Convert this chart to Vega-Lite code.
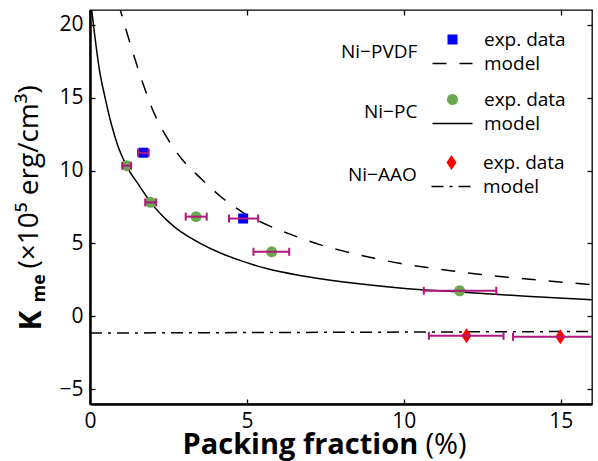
{
  "$schema": "https://vega.github.io/schema/vega-lite/v6.json",
  "width": 502,
  "height": 394,
  "autosize": {"type": "none"},
  "padding": {"left": 90, "top": 10, "right": 6, "bottom": 57},
  "background": "white",
  "datasets": {
    "pvdf_exp": [
      {"x": 1.70, "y": 11.22, "xlo": 1.53, "xhi": 1.87, "kind": "exp. data"},
      {"x": 4.88, "y": 6.71, "xlo": 4.43, "xhi": 5.36, "kind": "exp. data"}
    ],
    "pvdf_model": [
      {"x": 0.9, "y": 21.5, "kind": "model"},
      {"x": 1.19, "y": 19.35, "kind": "model"},
      {"x": 1.46, "y": 17.45, "kind": "model"},
      {"x": 1.73, "y": 15.7, "kind": "model"},
      {"x": 2.01, "y": 14.1, "kind": "model"},
      {"x": 2.44, "y": 12.3, "kind": "model"},
      {"x": 2.94, "y": 10.75, "kind": "model"},
      {"x": 3.56, "y": 9.4, "kind": "model"},
      {"x": 4.19, "y": 8.17, "kind": "model"},
      {"x": 4.88, "y": 7.12, "kind": "model"},
      {"x": 5.7, "y": 6.22, "kind": "model"},
      {"x": 6.5, "y": 5.54, "kind": "model"},
      {"x": 7.32, "y": 4.92, "kind": "model"},
      {"x": 8.18, "y": 4.42, "kind": "model"},
      {"x": 9.03, "y": 4.0, "kind": "model"},
      {"x": 9.87, "y": 3.64, "kind": "model"},
      {"x": 10.75, "y": 3.36, "kind": "model"},
      {"x": 11.62, "y": 3.1, "kind": "model"},
      {"x": 12.47, "y": 2.87, "kind": "model"},
      {"x": 13.38, "y": 2.67, "kind": "model"},
      {"x": 14.25, "y": 2.5, "kind": "model"},
      {"x": 15.12, "y": 2.33, "kind": "model"},
      {"x": 16.0, "y": 2.18, "kind": "model"}
    ],
    "pc_exp": [
      {"x": 1.17, "y": 10.33, "xlo": 1.03, "xhi": 1.31, "kind": "exp. data"},
      {"x": 1.93, "y": 7.82, "xlo": 1.76, "xhi": 2.11, "kind": "exp. data"},
      {"x": 3.38, "y": 6.84, "xlo": 3.05, "xhi": 3.72, "kind": "exp. data"},
      {"x": 5.79, "y": 4.43, "xlo": 5.21, "xhi": 6.35, "kind": "exp. data"},
      {"x": 11.78, "y": 1.76, "xlo": 10.64, "xhi": 12.95, "kind": "exp. data"}
    ],
    "pc_model": [
      {"x": 0.02, "y": 21.6, "kind": "model"},
      {"x": 0.12, "y": 19.8, "kind": "model"},
      {"x": 0.3, "y": 16.9, "kind": "model"},
      {"x": 0.48, "y": 15.0, "kind": "model"},
      {"x": 0.69, "y": 13.1, "kind": "model"},
      {"x": 0.87, "y": 11.8, "kind": "model"},
      {"x": 1.16, "y": 10.34, "kind": "model"},
      {"x": 1.59, "y": 8.9, "kind": "model"},
      {"x": 1.94, "y": 7.8, "kind": "model"},
      {"x": 2.44, "y": 6.62, "kind": "model"},
      {"x": 2.76, "y": 6.02, "kind": "model"},
      {"x": 3.18, "y": 5.42, "kind": "model"},
      {"x": 3.5, "y": 5.03, "kind": "model"},
      {"x": 4.1, "y": 4.4, "kind": "model"},
      {"x": 4.78, "y": 3.84, "kind": "model"},
      {"x": 5.63, "y": 3.28, "kind": "model"},
      {"x": 6.6, "y": 2.84, "kind": "model"},
      {"x": 7.5, "y": 2.53, "kind": "model"},
      {"x": 8.5, "y": 2.25, "kind": "model"},
      {"x": 9.87, "y": 1.95, "kind": "model"},
      {"x": 11.78, "y": 1.67, "kind": "model"},
      {"x": 13.9, "y": 1.39, "kind": "model"},
      {"x": 16.0, "y": 1.14, "kind": "model"}
    ],
    "aao_exp": [
      {"x": 12.0, "y": -1.33, "xlo": 10.8, "xhi": 13.18, "kind": "exp. data"},
      {"x": 14.99, "y": -1.39, "xlo": 13.48, "xhi": 16.5, "kind": "exp. data"}
    ],
    "aao_model": [
      {"x": 0.0, "y": -1.14, "kind": "model"},
      {"x": 16.0, "y": -1.03, "kind": "model"}
    ]
  },
  "resolve": {
    "scale": {"fill": "independent", "stroke": "independent", "shape": "independent", "strokeDash": "independent"},
    "axis": {"x": "independent", "y": "independent"}
  },
  "layer": [
    {
      "resolve": {"axis": {"x": "independent", "y": "independent"}},
      "layer": [
        {
          "data": {"name": "pvdf_model"},
          "mark": {"type": "line", "clip": true, "strokeWidth": 1.5, "interpolate": "monotone"},
          "encoding": {
            "x": {"field": "x", "type": "quantitative", "scale": {"domain": [0, 16], "nice": false, "zero": false},
              "axis": {"orient": "bottom", "values": [0, 5, 10, 15], "tickSize": -5, "labelPadding": 11, "labelFlush": false, "domainWidth": 2.5, "title": "Packing fraction", "titleFontSize": 29, "titleFontWeight": "bold", "titleX": 92, "titleY": 49, "titleAlign": "left", "titleBaseline": "alphabetic", "titleAngle": 0}},
            "y": {"field": "y", "type": "quantitative", "scale": {"domain": [-6, 21], "nice": false, "zero": false},
              "axis": {"orient": "left", "values": [-5, 0, 5, 10, 15, 20], "tickSize": -5, "labelPadding": 12, "labelFlush": false, "domainWidth": 2.5, "title": "K", "titleFontSize": 30, "titleFontWeight": "bold", "titleX": -50, "titleY": 320, "titleAngle": -90, "titleAlign": "left", "titleBaseline": "alphabetic"}},
            "stroke": {"field": "kind", "type": "nominal", "scale": {"domain": ["exp. data", "model"], "range": ["transparent", "black"]},
              "legend": {"title": "Ni−PVDF", "legendX": 251, "legendY": 20, "symbolSize": 100}},
            "strokeDash": {"field": "kind", "type": "nominal", "scale": {"domain": ["exp. data", "model"], "range": [[1, 0], [14, 13]]},
              "legend": {"title": "Ni−PVDF", "legendX": 251, "legendY": 20, "symbolSize": 100}}
          }
        },
        {
          "data": {"name": "pvdf_exp"},
          "mark": {"type": "point", "filled": true, "size": 100, "opacity": 1, "strokeWidth": 0},
          "encoding": {
            "x": {"field": "x", "type": "quantitative",
              "axis": {"orient": "bottom", "labels": false, "ticks": false, "domain": false, "title": "(%)", "titleFontSize": 29, "titleFontWeight": "normal", "titleX": 335, "titleY": 49, "titleAlign": "left", "titleBaseline": "alphabetic", "titleAngle": 0}},
            "y": {"field": "y", "type": "quantitative",
              "axis": {"orient": "left", "labels": false, "ticks": false, "domain": false, "title": "me", "titleFontSize": 18, "titleFontWeight": "bold", "titleX": -46, "titleY": 292, "titleAngle": -90, "titleAlign": "left", "titleBaseline": "alphabetic"}},
            "shape": {"field": "kind", "type": "nominal", "scale": {"domain": ["exp. data", "model"], "range": ["square", "M-4,0H4"]},
              "legend": {"title": "Ni−PVDF", "legendX": 251, "legendY": 20, "symbolSize": 100}},
            "fill": {"field": "kind", "type": "nominal", "scale": {"domain": ["exp. data", "model"], "range": ["#0000ff", "transparent"]},
              "legend": {"title": "Ni−PVDF", "legendX": 251, "legendY": 20, "symbolSize": 100}}
          }
        },
        {
          "data": {"name": "pvdf_exp"},
          "mark": {"type": "rule", "clip": true, "strokeWidth": 2, "color": "#b2177c"},
          "encoding": {
            "x": {"field": "xlo", "type": "quantitative",
              "axis": {"orient": "top", "values": [0, 5, 10, 15], "tickSize": -5, "labels": false, "domain": false, "title": null}},
            "x2": {"field": "xhi"},
            "y": {"field": "y", "type": "quantitative",
              "axis": {"orient": "left", "labels": false, "ticks": false, "domain": false, "title": "(×10⁵ erg/cm³)", "titleFontSize": 28, "titleFontWeight": "normal", "titleX": -53, "titleY": 258, "titleAngle": -90, "titleAlign": "left", "titleBaseline": "alphabetic"}}
          }
        },
        {
          "data": {"name": "pvdf_exp"},
          "mark": {"type": "tick", "orient": "vertical", "clip": true, "size": 8, "thickness": 2, "opacity": 1, "color": "#b2177c"},
          "encoding": {
            "x": {"field": "xlo", "type": "quantitative", "axis": null},
            "y": {"field": "y", "type": "quantitative", "axis": null}
          }
        },
        {
          "data": {"name": "pvdf_exp"},
          "mark": {"type": "tick", "orient": "vertical", "clip": true, "size": 8, "thickness": 2, "opacity": 1, "color": "#b2177c"},
          "encoding": {
            "x": {"field": "xhi", "type": "quantitative", "axis": null},
            "y": {"field": "y", "type": "quantitative", "axis": null}
          }
        }
      ]
    },
    {
      "resolve": {"axis": {"x": "independent", "y": "independent"}},
      "layer": [
        {
          "data": {"name": "pc_model"},
          "mark": {"type": "line", "clip": true, "strokeWidth": 1.5, "interpolate": "monotone"},
          "encoding": {
            "x": {"field": "x", "type": "quantitative", "axis": null},
            "y": {"field": "y", "type": "quantitative",
              "axis": {"orient": "right", "values": [-5, 0, 5, 10, 15, 20], "tickSize": -5, "labels": false, "domain": false, "title": null}},
            "stroke": {"field": "kind", "type": "nominal", "scale": {"domain": ["exp. data", "model"], "range": ["transparent", "black"]},
              "legend": {"title": "Ni−PC", "legendX": 274, "legendY": 80, "symbolSize": 121}}
          }
        },
        {
          "data": {"name": "pc_exp"},
          "mark": {"type": "point", "filled": true, "size": 121, "opacity": 1, "strokeWidth": 0},
          "encoding": {
            "x": {"field": "x", "type": "quantitative", "axis": null},
            "y": {"field": "y", "type": "quantitative", "axis": null},
            "shape": {"field": "kind", "type": "nominal", "scale": {"domain": ["exp. data", "model"], "range": ["circle", "M-3.64,0H3.64"]},
              "legend": {"title": "Ni−PC", "legendX": 274, "legendY": 80, "symbolSize": 121}},
            "fill": {"field": "kind", "type": "nominal", "scale": {"domain": ["exp. data", "model"], "range": ["#6aa84f", "transparent"]},
              "legend": {"title": "Ni−PC", "legendX": 274, "legendY": 80, "symbolSize": 121}}
          }
        },
        {
          "data": {"name": "pc_exp"},
          "mark": {"type": "rule", "clip": true, "strokeWidth": 2, "color": "#b2177c"},
          "encoding": {
            "x": {"field": "xlo", "type": "quantitative", "axis": null},
            "x2": {"field": "xhi"},
            "y": {"field": "y", "type": "quantitative", "axis": null}
          }
        },
        {
          "data": {"name": "pc_exp"},
          "mark": {"type": "tick", "orient": "vertical", "clip": true, "size": 8, "thickness": 2, "opacity": 1, "color": "#b2177c"},
          "encoding": {
            "x": {"field": "xlo", "type": "quantitative", "axis": null},
            "y": {"field": "y", "type": "quantitative", "axis": null}
          }
        },
        {
          "data": {"name": "pc_exp"},
          "mark": {"type": "tick", "orient": "vertical", "clip": true, "size": 8, "thickness": 2, "opacity": 1, "color": "#b2177c"},
          "encoding": {
            "x": {"field": "xhi", "type": "quantitative", "axis": null},
            "y": {"field": "y", "type": "quantitative", "axis": null}
          }
        }
      ]
    },
    {
      "resolve": {"axis": {"x": "independent", "y": "independent"}},
      "layer": [
        {
          "data": {"name": "aao_model"},
          "mark": {"type": "line", "clip": true, "strokeWidth": 1.5},
          "encoding": {
            "x": {"field": "x", "type": "quantitative", "axis": null},
            "y": {"field": "y", "type": "quantitative", "axis": null},
            "stroke": {"field": "kind", "type": "nominal", "scale": {"domain": ["exp. data", "model"], "range": ["transparent", "black"]},
              "legend": {"title": "Ni−AAO", "legendX": 258, "legendY": 143, "symbolSize": 100}},
            "strokeDash": {"field": "kind", "type": "nominal", "scale": {"domain": ["exp. data", "model"], "range": [[1, 0], [12, 6, 3, 6]]},
              "legend": {"title": "Ni−AAO", "legendX": 258, "legendY": 143, "symbolSize": 100}}
          }
        },
        {
          "data": {"name": "aao_exp"},
          "mark": {"type": "point", "filled": true, "size": 100, "opacity": 1, "strokeWidth": 0},
          "encoding": {
            "x": {"field": "x", "type": "quantitative", "axis": null},
            "y": {"field": "y", "type": "quantitative", "axis": null},
            "shape": {"field": "kind", "type": "nominal", "scale": {"domain": ["exp. data", "model"], "range": ["M0,-1.5L1,0L0,1.5L-1,0Z", "M-4,0H4"]},
              "legend": {"title": "Ni−AAO", "legendX": 258, "legendY": 143, "symbolSize": 100}},
            "fill": {"field": "kind", "type": "nominal", "scale": {"domain": ["exp. data", "model"], "range": ["#ff0000", "transparent"]},
              "legend": {"title": "Ni−AAO", "legendX": 258, "legendY": 143, "symbolSize": 100}}
          }
        },
        {
          "data": {"name": "aao_exp"},
          "mark": {"type": "rule", "clip": true, "strokeWidth": 2, "color": "#b2177c"},
          "encoding": {
            "x": {"field": "xlo", "type": "quantitative", "axis": null},
            "x2": {"field": "xhi"},
            "y": {"field": "y", "type": "quantitative", "axis": null}
          }
        },
        {
          "data": {"name": "aao_exp"},
          "mark": {"type": "tick", "orient": "vertical", "clip": true, "size": 8, "thickness": 2, "opacity": 1, "color": "#b2177c"},
          "encoding": {
            "x": {"field": "xlo", "type": "quantitative", "axis": null},
            "y": {"field": "y", "type": "quantitative", "axis": null}
          }
        },
        {
          "data": {"name": "aao_exp"},
          "mark": {"type": "tick", "orient": "vertical", "clip": true, "size": 8, "thickness": 2, "opacity": 1, "color": "#b2177c"},
          "encoding": {
            "x": {"field": "xhi", "type": "quantitative", "axis": null},
            "y": {"field": "y", "type": "quantitative", "axis": null}
          }
        }
      ]
    }
  ],
  "config": {
    "font": "Open Sans",
    "view": {"stroke": "black", "strokeWidth": 1.3},
    "axis": {"grid": false, "labelFont": "Open Sans", "labelFontSize": 21, "labelColor": "black", "tickColor": "black", "tickWidth": 1.3, "domainColor": "black", "titleColor": "black", "titleFont": "Open Sans"},
    "legend": {"orient": "none", "titleOrient": "left", "titleFont": "Open Sans", "titleFontSize": 19, "titleFontWeight": "normal", "titleColor": "black", "labelFont": "Open Sans", "labelFontSize": 19, "labelColor": "black", "padding": 0, "rowPadding": 4, "labelOffset": 22, "titlePadding": 25, "symbolStrokeWidth": 1.5, "titleAnchor": "middle", "titleBaseline": "middle"}
  }
}
